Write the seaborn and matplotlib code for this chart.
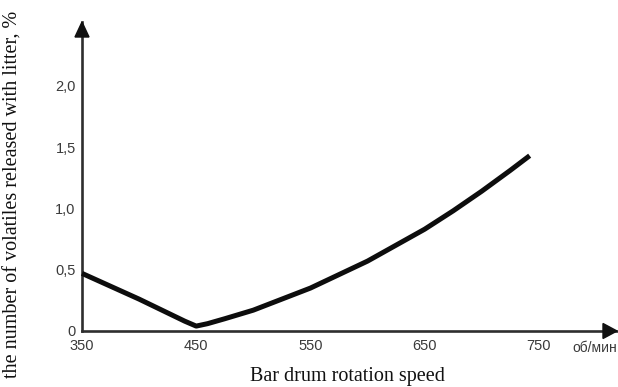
import matplotlib
matplotlib.use("Agg")
import matplotlib.pyplot as plt
from matplotlib.patches import Polygon
import seaborn as sns
import pandas as pd

# Rotation speed of the bar drum (rpm) and share of volatiles lost with litter (%)
speed = [350, 400, 440, 450, 460, 475, 500, 525, 550, 575, 600, 625, 650, 675, 700, 725, 742]
volatiles = [0.47, 0.26, 0.08, 0.04, 0.06, 0.10, 0.17, 0.26, 0.35, 0.46, 0.57, 0.70, 0.83, 0.98, 1.14, 1.31, 1.43]

x_ticks = [350, 400, 450, 500, 550, 600, 650, 700, 750, 800]
x_labels = ["350", "", "450", "", "550", "", "650", "", "750", ""]
y_ticks = [0, 0.5, 1.0, 1.5, 2.0]
y_labels = ["0", "0,5", "1,0", "1,5", "2,0"]

df = pd.DataFrame({"speed": speed, "volatiles": volatiles})

sns.set_style("white")
plt.rcParams["font.family"] = ["Liberation Sans", "DejaVu Sans"]

W, H = 618, 387
fig = plt.figure(figsize=(W / 100, H / 100), dpi=100)
x0, x1 = 82, 617      # pixel span of the x axis
y0, y1 = 331, 22      # pixel span of the y axis
ax = fig.add_axes([x0 / W, (H - y0) / H, (x1 - x0) / W, (y0 - y1) / H])

px_per_x = 57.1 / 50
px_per_y = 122.6
xmax = 350 + (x1 - x0) / px_per_x
ymax = (y0 - y1) / px_per_y
ax.set_xlim(350, xmax)
ax.set_ylim(0, ymax)

sns.lineplot(data=df, x="speed", y="volatiles", ax=ax, color="#0d0d0d",
             linewidth=3.6, solid_joinstyle="round", solid_capstyle="butt",
             clip_on=False, zorder=3)

axis_color = "#2e2e2e"
for side in ("top", "right"):
    ax.spines[side].set_visible(False)
for side in ("left", "bottom"):
    ax.spines[side].set_color(axis_color)
    ax.spines[side].set_linewidth(1.9)
    ax.spines[side].set_zorder(2)

# arrow heads at the ends of both axes
hx = 7 / px_per_x
hy = 15 / px_per_y
ax.add_patch(Polygon([(350 - hx, ymax - hy), (350 + hx, ymax - hy), (350, ymax)],
                     closed=True, color="#111111", clip_on=False, zorder=4))
hw = 7.5 / px_per_y
hl = 14 / px_per_x
ax.add_patch(Polygon([(xmax - hl, -hw), (xmax - hl, hw), (xmax, 0)],
                     closed=True, color="#111111", clip_on=False, zorder=4))

ax.set_xticks(x_ticks)
ax.set_xticklabels(x_labels)
ax.set_yticks(y_ticks)
ax.set_yticklabels(y_labels)
ax.tick_params(axis="x", direction="in", length=3, width=0.8, color="#555555",
               pad=6, labelsize=10.5, labelcolor="#3a3a3a")
ax.tick_params(axis="y", direction="out", length=3, width=0.8, color="#777777",
               pad=1.5, labelsize=10.5, labelcolor="#3a3a3a")
ax.set_xlabel("")
ax.set_ylabel("")

fig.text(617 / W, 1 - 348 / H, "об/мин", ha="right", va="center",
         fontsize=10, color="#3a3a3a")
fig.text(347 / W, 1 - 377 / H, "Bar drum rotation speed", ha="center", va="center",
         fontsize=14.5, family=["Liberation Serif", "DejaVu Serif"], color="#111111")
fig.text(13 / W, 1 - 194 / H, "the number of volatiles released with litter, %",
         ha="center", va="center", rotation=90, fontsize=14.5,
         family=["Liberation Serif", "DejaVu Serif"], color="#111111")

fig.savefig("out.png", dpi=100)
